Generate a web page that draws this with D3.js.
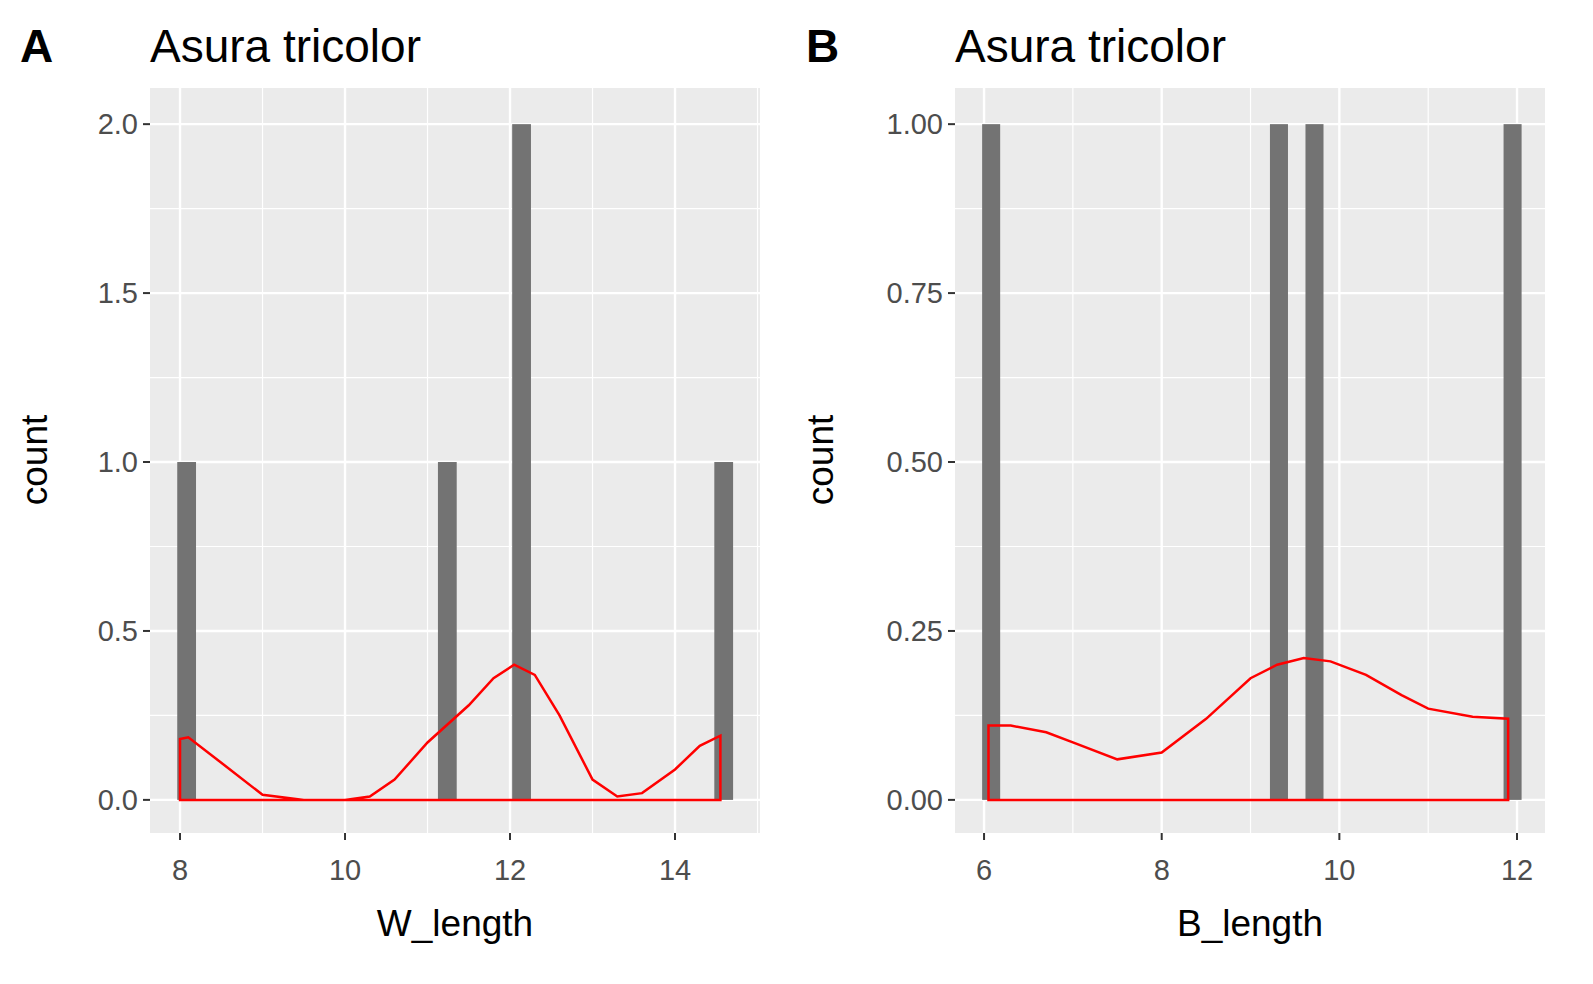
<!DOCTYPE html><html><head><meta charset="utf-8">
<script src="https://cdn.jsdelivr.net/npm/d3@7"></script>
<style>body{margin:0;background:#fff}text{font-family:"Liberation Sans",Arial,sans-serif}</style></head><body>
<svg id="c" width="1593" height="984"></svg>
<script>
const aBins=[8.08,11.24,12.14,14.59], aCounts=[1,1,2,1];
const aDensX=[8,8.1,8.5,9,9.5,10,10.3,10.6,11,11.5,11.8,12.05,12.3,12.6,13,13.3,13.6,14,14.3,14.55];
const aDensY=[0.18,0.185,0.11,0.015,0,0,0.01,0.06,0.17,0.28,0.36,0.40,0.37,0.25,0.06,0.01,0.02,0.09,0.16,0.19];
const bBins=[6.08,9.32,9.72,11.95], bCounts=[1,1,1,1];
const bDensX=[6.05,6.3,6.7,7,7.5,8,8.5,9,9.3,9.6,9.9,10.3,10.7,11,11.5,11.9];
const bDensY=[0.11,0.11,0.1,0.085,0.06,0.07,0.12,0.18,0.2,0.21,0.205,0.185,0.155,0.135,0.123,0.12];
const aTicksX=[8,10,12,14], aTicksY=[0,0.5,1.0,1.5,2.0];
const bTicksX=[6,8,10,12], bTicksY=[0,0.25,0.5,0.75,1.0];
const svg=d3.select("#c");
function panel(o){
  const x=d3.scaleLinear().domain(o.xd).range([o.x0,o.x1]);
  const y=d3.scaleLinear().domain(o.yd).range([833,88]);
  const g=svg.append("g");
  g.append("rect").attr("x",o.x0).attr("y",88).attr("width",o.x1-o.x0).attr("height",745).attr("fill","#EBEBEB");
  const mx=[],my=[];
  for(let i=0;i<o.tx.length-1;i++)mx.push((o.tx[i]+o.tx[i+1])/2);
  mx.push(o.tx[0]-(o.tx[1]-o.tx[0])/2, o.tx[o.tx.length-1]+(o.tx[1]-o.tx[0])/2);
  for(let i=0;i<o.ty.length-1;i++)my.push((o.ty[i]+o.ty[i+1])/2);
  mx.filter(v=>x(v)>o.x0&&x(v)<o.x1).forEach(v=>g.append("line").attr("x1",x(v)).attr("x2",x(v)).attr("y1",88).attr("y2",833).attr("stroke","#fff").attr("stroke-width",1.2));
  my.forEach(v=>g.append("line").attr("x1",o.x0).attr("x2",o.x1).attr("y1",y(v)).attr("y2",y(v)).attr("stroke","#fff").attr("stroke-width",1.2));
  o.tx.forEach(v=>g.append("line").attr("x1",x(v)).attr("x2",x(v)).attr("y1",88).attr("y2",833).attr("stroke","#fff").attr("stroke-width",2.4));
  o.ty.forEach(v=>g.append("line").attr("x1",o.x0).attr("x2",o.x1).attr("y1",y(v)).attr("y2",y(v)).attr("stroke","#fff").attr("stroke-width",2.4));
  o.bins.forEach((b,i)=>g.append("rect").attr("x",x(b-o.bw/2)).attr("width",x(b+o.bw/2)-x(b-o.bw/2)).attr("y",y(o.counts[i])).attr("height",y(0)-y(o.counts[i])).attr("fill","#737373"));
  const pts=o.dx.map((v,i)=>[x(v),y(o.dy[i])]);
  pts.push([x(o.dx[o.dx.length-1]),y(0)],[x(o.dx[0]),y(0)]);
  g.append("path").attr("d",d3.line().curve(d3.curveLinear)(d3.range(0,1).length?smooth(pts,o):pts)+"Z").attr("fill","none").attr("stroke","red").attr("stroke-width",2.5);
  o.tx.forEach(v=>{g.append("line").attr("x1",x(v)).attr("x2",x(v)).attr("y1",833).attr("y2",840).attr("stroke","#333").attr("stroke-width",2);
    g.append("text").attr("x",x(v)).attr("y",880).attr("text-anchor","middle").attr("font-size",29).attr("fill","#4D4D4D").text(v);});
  o.ty.forEach(v=>{g.append("line").attr("x1",o.x0-7).attr("x2",o.x0).attr("y1",y(v)).attr("y2",y(v)).attr("stroke","#333").attr("stroke-width",2);
    g.append("text").attr("x",o.x0-12).attr("y",y(v)+10).attr("text-anchor","end").attr("font-size",29).attr("fill","#4D4D4D").text(o.fmt(v));});
  g.append("text").attr("x",(o.x0+o.x1)/2).attr("y",936).attr("text-anchor","middle").attr("font-size",37).text(o.xl);
  g.append("text").attr("transform",`translate(${o.lx+27},460) rotate(-90)`).attr("text-anchor","middle").attr("font-size",37).text("count");
  g.append("text").attr("x",o.lx).attr("y",62).attr("font-size",46).attr("font-weight","bold").text(o.tag);
  g.append("text").attr("x",o.x0).attr("y",62).attr("font-size",46).text("Asura tricolor");
}
function smooth(pts,o){
  const n=pts.length-2;
  const curve=d3.line().curve(d3.curveCatmullRom)(pts.slice(0,n));
  return null||pts;
}
function drawPanel(o){panel(o);}
// use smooth curve by overriding path
panel({xd:[7.636,15.03],x0:150,x1:760,yd:[-0.098,2.107],tx:aTicksX,ty:aTicksY,bins:aBins,counts:aCounts,bw:0.2276,dx:aDensX,dy:aDensY,fmt:d3.format(".1f"),xl:"W_length",tag:"A",lx:20});
panel({xd:[5.673,12.315],x0:955,x1:1545,yd:[-0.049,1.0535],tx:bTicksX,ty:bTicksY,bins:bBins,counts:bCounts,bw:0.203,dx:bDensX,dy:bDensY,fmt:d3.format(".2f"),xl:"B_length",tag:"B",lx:806});
// replace red paths with smooth versions
svg.selectAll("path").each(function(){});
</script></body></html>
